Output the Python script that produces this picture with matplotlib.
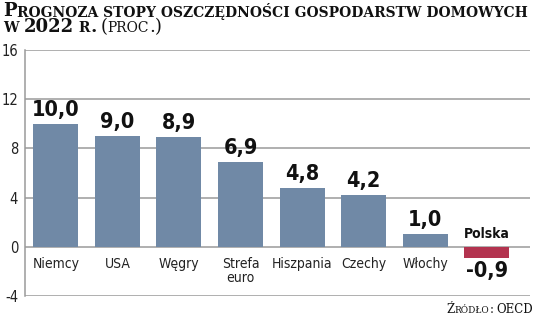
import matplotlib.pyplot as plt
import numpy as np

countries = ['Niemcy', 'USA', 'Węgry', 'Strefa\neuro', 'Hiszpania', 'Czechy', 'Włochy', 'Polska']
rates = [10.0, 9.0, 8.9, 6.9, 4.8, 4.2, 1.0, -0.9]
yticks = [-4, 0, 4, 8, 12, 16]

bar_color = '#7089a6'
pl_color = '#b3334f'
grid_color = '#9a9a9a'
cond = ['DejaVu Sans Condensed', 'DejaVu Sans']
serif = ['DejaVu Serif']

fig = plt.figure(figsize=(5.36, 3.22), dpi=100)
ax = fig.add_axes([25 / 536, 1 - 296 / 322, 505 / 536, 246 / 322])

x = np.arange(len(countries))
colors = [pl_color if c == 'Polska' else bar_color for c in countries]
ax.bar(x, rates, width=0.73, color=colors, zorder=3)

ax.set_xlim(-0.5, 7.7)
ax.set_ylim(-4, 16)
ax.set_yticks(yticks)
ax.set_yticklabels([str(v) for v in yticks], family=cond, fontstretch='condensed',
                   fontsize=10.5, color='#222222')
ax.tick_params(axis='y', length=0, pad=5)
ax.set_xticks([])
for v in yticks:
    ax.axhline(v, color=grid_color, lw=1.1, zorder=1)
for s in ['top', 'right', 'bottom']:
    ax.spines[s].set_visible(False)
ax.spines['left'].set_color(grid_color)
ax.spines['left'].set_linewidth(1.1)

for i, (c, v) in enumerate(zip(countries, rates)):
    lab = f'{v:.1f}'.replace('.', ',')
    if v >= 0:
        ax.annotate(lab, (i, v), xytext=(0, 3), textcoords='offset points',
                    ha='center', va='bottom', family=cond, fontstretch='condensed',
                    fontweight='bold', fontsize=15.5, color='#111111')
        ax.annotate(c, (i, 0), xytext=(0, -7), textcoords='offset points',
                    ha='center', va='top', family=cond, fontstretch='condensed',
                    fontsize=10, color='#222222', linespacing=1.0)
    else:
        ax.annotate(lab, (i, v), xytext=(0, -2), textcoords='offset points',
                    ha='center', va='top', family=cond, fontstretch='condensed',
                    fontweight='bold', fontsize=15.5, color='#111111')
        ax.annotate(c, (i, 0), xytext=(0, 4), textcoords='offset points',
                    ha='center', va='bottom', family=cond, fontstretch='condensed',
                    fontweight='bold', fontsize=10, color='#111111')

renderer = fig.canvas.get_renderer()


def small_caps(text, big, small, weight='bold'):
    # lowercase letters become smaller capitals, everything else stays full size
    runs = []
    for ch in text:
        if ch.islower() or ch == ' ':
            piece = [ch.upper(), small, weight]
        else:
            piece = [ch, big, weight]
        if runs and runs[-1][1:] == piece[1:]:
            runs[-1][0] += piece[0]
        else:
            runs.append(piece)
    return runs


def draw_runs(x, y, runs, right=False):
    arts = []
    px = x * fig.bbox.width
    for s, size, w in runs:
        t = fig.text(px / fig.bbox.width, y, s, fontsize=size, fontweight=w,
                     family=serif, va='baseline', ha='left', color='#111111')
        px = t.get_window_extent(renderer).x1
        arts.append(t)
    if right:
        shift = (px - x * fig.bbox.width) / fig.bbox.width
        for t in arts:
            tx, ty = t.get_position()
            t.set_position((tx - shift, ty))
    return arts


draw_runs(3 / 536, 1 - 16.5 / 322,
          small_caps('Prognoza stopy oszczędności gospodarstw domowych', 13, 10))
line2 = small_caps('w 2022 r.', 13, 10) + small_caps(' (proc.)', 13, 10, weight='normal')
draw_runs(3 / 536, 1 - 32.5 / 322, line2)

draw_runs(533 / 536, 1 - 313 / 322, small_caps('Źródło: OECD', 8.5, 6.5, weight='normal'),
          right=True)

fig.savefig('out.png', dpi=100)
